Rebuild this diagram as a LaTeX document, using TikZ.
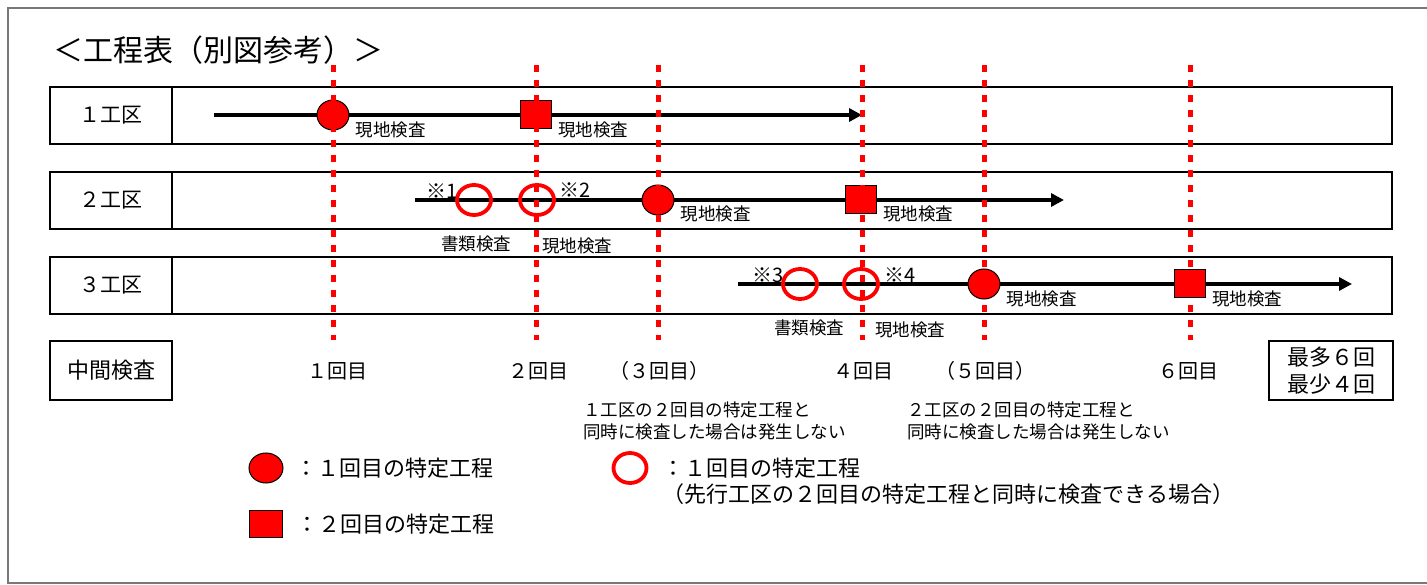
\documentclass[tikz,border=0pt]{standalone}
\usepackage{fontspec}
\setmainfont{Noto Sans CJK JP}
\usepackage{xcolor}
\usepackage{tikz}
\usetikzlibrary{positioning, shapes.geometric, arrows.meta}

\definecolor{mkred}{RGB}{255,0,0}
\definecolor{framegray}{RGB}{120,120,120}

\begin{document}
\begin{tikzpicture}[
  x=1pt, y=-1pt,
  node distance=26pt and 6pt,
  every node/.style={font=\fontsize{17}{20}\selectfont},
  cell/.style={rectangle, draw, line width=2pt, minimum width=122pt, minimum height=57pt, inner sep=0pt, font=\fontsize{21}{24}\selectfont},
  lane/.style={rectangle, draw, line width=2pt, minimum width=1220pt, minimum height=57pt, inner sep=0pt},
  tag/.style={inner sep=0pt, font=\fontsize{17.5}{20}\selectfont},
  refmark/.style={inner sep=0pt, font=\fontsize{20}{22}\selectfont},
  round/.style={inner sep=0pt, font=\fontsize{20}{24}\selectfont},
  note/.style={inner sep=0pt, align=left, font=\fontsize{17.5}{22}\selectfont},
  leg/.style={inner sep=0pt, align=left, font=\fontsize{22}{26}\selectfont},
  done/.style={ellipse, draw, fill=mkred, line width=1pt, minimum width=32pt, minimum height=30pt, inner sep=0pt},
  twice/.style={rectangle, draw, fill=mkred, line width=1pt, minimum width=31pt, minimum height=28pt, inner sep=0pt},
  early/.style={ellipse, draw=mkred, line width=3.8pt, minimum width=34pt, minimum height=30pt, inner sep=0pt},
  flow/.style={line width=4pt, -{Triangle[length=13pt,width=13pt]}},
  guide/.style={draw=mkred, line width=5pt, dash pattern=on 7pt off 8pt}
]
\useasboundingbox (0,0) rectangle (1427,585);

% Frame and title
\draw[framegray, line width=1.5pt] (1427,8) -- (8,8) -- (8,583) -- (1427,583);
\node[anchor=west, inner sep=0pt, font=\fontsize{30}{34}\selectfont] (title) at (53,50) {＜工程表（別図参考）＞};

% Rows
\node[cell] (k1) at (111,115.5) {１工区};
\node[lane, right=-2pt of k1] (lane1) {};
\node[cell, below=26pt of k1] (k2) {２工区};
\node[lane, right=-2pt of k2] (lane2) {};
\node[cell, below=26pt of k2] (k3) {３工区};
\node[lane, right=-2pt of k3] (lane3) {};
\node[cell, below=25pt of k3, minimum height=59pt, font=\fontsize{22}{26}\selectfont] (mid) {中間検査};
\node[cell, minimum width=124pt, minimum height=59pt, align=center, font=\fontsize{22}{27}\selectfont] (cnt) at (1331,370.5) {最多６回\\最少４回};

% Process lines
\coordinate (s1) at (214,115);
\coordinate (e1) at (862,115);
\coordinate (s2) at (415,200);
\coordinate (e2) at (1064,200);
\coordinate (s3) at (738,284);
\coordinate (e3) at (1352,284);
\draw[flow] (s1) -- (e1);
\draw[flow] (s2) -- (e2);
\draw[flow] (s3) -- (e3);

% 1st row
\node[done] (a1) at (333,115) {};
\node[tag, right=6pt of a1, yshift=-15pt] (t1) {現地検査};
\node[twice] (b1) at (536,115) {};
\node[tag, right=6pt of b1, yshift=-15pt] (t2) {現地検査};

% 2nd row
\node[early] (o1) at (474,200) {};
\node[early] (o2) at (537,200) {};
\node[refmark, left=-3pt of o1, yshift=9pt] (x1) {※1};
\node[refmark, right=3pt of o2, yshift=10pt] (x2) {※2};
\node[tag, below=19pt of o1, xshift=2pt] (d1) {書類検査};
\node[tag, right=31pt of d1, yshift=-2pt] (d2) {現地検査};
\node[done] (a2) at (658,200) {};
\node[tag, right=6pt of a2, yshift=-14pt] (t3) {現地検査};
\node[twice] (b2) at (861,200) {};
\node[tag, right=6pt of b2, yshift=-14pt] (t4) {現地検査};

% 3rd row
\node[early] (o3) at (800,284) {};
\node[early] (o4) at (861,284) {};
\node[refmark, left=-3pt of o3, yshift=9pt] (x3) {※3};
\node[refmark, right=4pt of o4, yshift=9pt] (x4) {※4};
\node[tag, below=19pt of o3, xshift=9pt] (d3) {書類検査};
\node[tag, right=31pt of d3, yshift=-2pt] (d4) {現地検査};
\node[done] (a3) at (984,284) {};
\node[tag, right=6pt of a3, yshift=-15pt] (t5) {現地検査};
\node[twice] (b3) at (1190,284) {};
\node[tag, right=6pt of b3, yshift=-15pt] (t6) {現地検査};

% Inspection rounds
\foreach \x/\t [count=\i] in {337/１回目, 538/２回目, 659/（３回目）, 863/４回目, 985/（５回目）, 1188/６回目}
  \node[round] (r\i) at (\x,371) {\t};

% Notes
\node[note, anchor=west] (n1) at (583,421) {１工区の２回目の特定工程と\\同時に検査した場合は発生しない};
\node[note, anchor=west] (n2) at (907,421) {２工区の２回目の特定工程と\\同時に検査した場合は発生しない};

% Legend
\node[done, minimum width=34pt] (ld) at (266,468) {};
\node[leg, right=12pt of ld] (ldt) {：１回目の特定工程};
\node[twice, minimum width=33pt, minimum height=27pt] (lb) at (266,524) {};
\node[leg, right=13pt of lb] (lbt) {：２回目の特定工程};
\node[early, minimum width=33pt] (lo) at (630,468) {};
\node[leg, right=14pt of lo, yshift=-13pt] (lot) {：１回目の特定工程\\（先行工区の２回目の特定工程と同時に検査できる場合）};

% Guides
\foreach \x [count=\i] in {333, 536, 658, 862, 984, 1190} {
  \coordinate (g\i t) at (\x,65);
  \coordinate (g\i b) at (\x,340);
  \draw[guide] (g\i t) -- (g\i b);
}

\end{tikzpicture}
\end{document}
